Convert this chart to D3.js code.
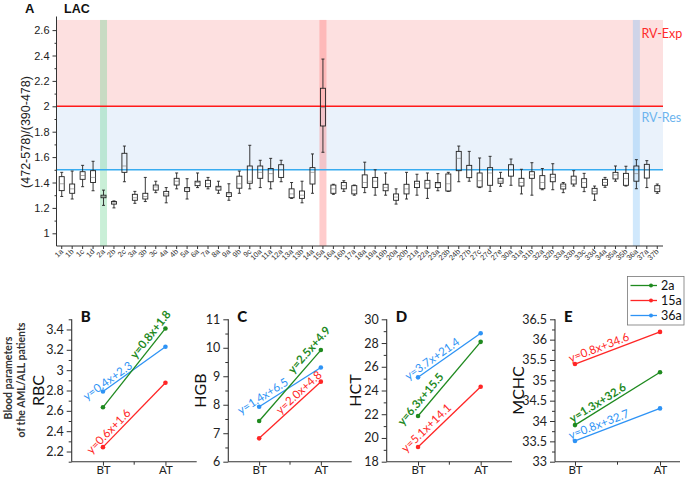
<!DOCTYPE html>
<html><head><meta charset="utf-8">
<script src="https://cdn.jsdelivr.net/npm/d3@7"></script>
<style>body{margin:0;background:#fff} svg{display:block}</style>
</head><body>
<svg id="c" width="685" height="477"></svg>
<script>
// ---------- Panel A data ----------
const categories = ["1a","1b","1c","1d","2a","2b","2c","3a","3b","3c","4a","4b","5a","6a","7a","8a","9a","9b","9c","10a","11a","12a","13a","13b","14a","15a","16a","16b","17a","18a","19a","19b","20a","20b","21a","22a","23a","23b","24b","27b","27c","27d","27e","30a","31a","31b","32a","32b","33a","33b","33c","33d","34a","35a","35b","36a","37a","37b"];
const whiskerLow = [1.29,1.27,1.367,1.335,1.22,1.20,1.406,1.236,1.25,1.32,1.24,1.35,1.27,1.36,1.35,1.315,1.26,1.315,1.35,1.36,1.35,1.406,1.275,1.24,1.315,1.638,1.307,1.33,1.30,1.32,1.30,1.30,1.23,1.27,1.30,1.275,1.335,1.33,1.406,1.41,1.36,1.33,1.37,1.378,1.31,1.30,1.343,1.343,1.32,1.372,1.328,1.26,1.362,1.41,1.372,1.351,1.36,1.315];
const quart1 = [1.336,1.315,1.425,1.40,1.28,1.23,1.48,1.26,1.27,1.34,1.294,1.38,1.33,1.375,1.367,1.34,1.29,1.355,1.394,1.433,1.406,1.44,1.28,1.275,1.388,1.845,1.315,1.35,1.31,1.36,1.36,1.335,1.26,1.31,1.36,1.355,1.36,1.333,1.493,1.438,1.365,1.378,1.394,1.45,1.372,1.433,1.351,1.406,1.349,1.388,1.362,1.31,1.378,1.428,1.378,1.41,1.435,1.328];
const medians = [1.39,1.35,1.455,1.44,1.29,1.24,1.53,1.28,1.29,1.365,1.31,1.41,1.35,1.40,1.39,1.36,1.31,1.39,1.41,1.48,1.47,1.50,1.31,1.30,1.48,1.99,1.35,1.375,1.34,1.40,1.41,1.36,1.285,1.35,1.39,1.39,1.39,1.39,1.59,1.50,1.414,1.475,1.41,1.50,1.40,1.46,1.40,1.44,1.37,1.42,1.40,1.33,1.40,1.46,1.43,1.47,1.50,1.35];
const quart3 = [1.446,1.388,1.485,1.493,1.30,1.25,1.63,1.307,1.315,1.38,1.33,1.433,1.36,1.41,1.417,1.37,1.32,1.45,1.53,1.53,1.51,1.54,1.35,1.333,1.517,2.142,1.38,1.40,1.375,1.46,1.44,1.386,1.31,1.386,1.41,1.417,1.40,1.467,1.645,1.535,1.475,1.517,1.433,1.54,1.433,1.485,1.454,1.465,1.388,1.45,1.43,1.354,1.425,1.48,1.472,1.53,1.543,1.375];
const whiskerHigh = [1.48,1.49,1.535,1.567,1.34,1.255,1.687,1.33,1.44,1.41,1.36,1.475,1.43,1.475,1.44,1.41,1.39,1.49,1.693,1.575,1.59,1.575,1.40,1.41,1.625,2.372,1.386,1.414,1.38,1.56,1.50,1.475,1.35,1.48,1.465,1.475,1.47,1.48,1.687,1.645,1.593,1.606,1.48,1.585,1.504,1.556,1.51,1.548,1.40,1.493,1.472,1.372,1.44,1.53,1.528,1.58,1.572,1.388];
const yTicksA = [1,1.2,1.4,1.6,1.8,2,2.2,2.4,2.6];
const yMinorA = [1.1,1.3,1.5,1.7,1.9,2.1,2.3,2.5];
const highlightCats = ["2a","15a","36a"];
const thresholdExp = 2.0, thresholdRes = 1.5;

// ---------- Panels B-E data ----------
const seriesNames = ["2a","15a","36a"];
const seriesColors = ["#1f8a1f","#ff2626","#2e93f5"];
const timePoints = ["BT","AT"];
const rbcValues  = [[2.635,3.41],[2.243,2.876],[2.79,3.23]];
const hgbValues  = [[7.43,9.92],[6.82,8.81],[7.93,9.31]];
const hctValues  = [[21.85,28.1],[19.24,24.32],[25.11,28.82]];
const mchcValues = [[33.90,35.20],[35.40,36.19],[33.51,34.31]];
const rbcEq  = ["y=0.8x+1.8","y=0.6x+1.6","y=0.4x+2.3"];
const hgbEq  = ["y=2.5x+4.9","y=2.0x+4.8","y=1.4x+6.5"];
const hctEq  = ["y=6.3x+15.5","y=5.1x+14.1","y=3.7x+21.4"];
const mchcEq = ["y=1.3x+32.6","y=0.8x+34.6","y=0.8x+32.7"];
const rbcTicks  = [2.2,2.4,2.6,2.8,3,3.2,3.4];
const hgbTicks  = [6,7,8,9,10,11];
const hctTicks  = [18,20,22,24,26,28,30];
const mchcTicks = [33,33.5,34,34.5,35,35.5,36,36.5];

const svg = d3.select("#c");
const fA = "'Liberation Sans', Arial, sans-serif";
const fB = "Lato, 'Open Sans', sans-serif";
const fmt = d => String(+d.toFixed(2));

// ================= Panel A =================
const xA = d3.scaleBand().domain(categories).range([56.5, 662.5]).padding(0);
const yA = d3.scaleLinear().domain([0.9, 2.7]).range([246, 17.4]);
const aL = 56.5, aR = 663, aTop = yA(2.68), aBot = yA(0.9);
const gA = svg.append("g");
gA.append("rect").attr("x", aL).attr("y", aTop).attr("width", aR - aL).attr("height", yA(thresholdExp) - aTop).attr("fill", "#fde0e0");
gA.append("rect").attr("x", aL).attr("y", yA(thresholdExp)).attr("width", aR - aL).attr("height", yA(thresholdRes) - yA(thresholdExp)).attr("fill", "#eaf2fb");
const bandFill = ["rgba(100,210,140,0.35)","rgba(255,120,120,0.38)","rgba(120,190,245,0.35)"];
highlightCats.forEach((c, i) => {
  const cx = xA(c) + xA.bandwidth() / 2;
  gA.append("rect").attr("x", cx - 3.5).attr("y", aTop).attr("width", 7).attr("height", aBot - aTop).attr("fill", bandFill[i]);
});
gA.append("line").attr("x1", aL).attr("x2", aR).attr("y1", yA(thresholdExp)).attr("y2", yA(thresholdExp)).attr("stroke", "#ff1a1a").attr("stroke-width", 1.5);
gA.append("line").attr("x1", aL).attr("x2", aR).attr("y1", yA(thresholdRes)).attr("y2", yA(thresholdRes)).attr("stroke", "#38acf0").attr("stroke-width", 1.5);

const boxes = gA.append("g").attr("stroke", "#222").attr("fill", "none").attr("stroke-width", 0.9);
categories.forEach((c, i) => {
  const cx = xA(c) + xA.bandwidth() / 2;
  const g = boxes.append("g");
  g.append("line").attr("x1", cx).attr("x2", cx).attr("y1", yA(whiskerHigh[i])).attr("y2", yA(quart3[i]));
  g.append("line").attr("x1", cx).attr("x2", cx).attr("y1", yA(quart1[i])).attr("y2", yA(whiskerLow[i]));
  g.append("line").attr("x1", cx - 1.5).attr("x2", cx + 1.5).attr("y1", yA(whiskerHigh[i])).attr("y2", yA(whiskerHigh[i]));
  g.append("line").attr("x1", cx - 1.5).attr("x2", cx + 1.5).attr("y1", yA(whiskerLow[i])).attr("y2", yA(whiskerLow[i]));
  g.append("rect").attr("x", cx - 2.5).attr("width", 5).attr("y", yA(quart3[i])).attr("height", yA(quart1[i]) - yA(quart3[i]));
  g.append("line").attr("x1", cx - 2.5).attr("x2", cx + 2.5).attr("y1", yA(medians[i])).attr("y2", yA(medians[i])).attr("stroke", "#777").attr("stroke-width", 0.6);
});

// axes A
const axAL = gA.append("g").attr("transform", `translate(${aL},0)`)
  .call(d3.axisLeft(yA).tickValues(yTicksA).tickFormat(fmt).tickSize(4).tickPadding(3).tickSizeOuter(0));
gA.append("g").attr("transform", `translate(${aL},0)`)
  .call(d3.axisLeft(yA).tickValues(yMinorA).tickFormat("").tickSize(2).tickSizeOuter(0));
gA.selectAll(".domain").remove();
gA.append("line").attr("x1", aL).attr("x2", aL).attr("y1", 16.5).attr("y2", aBot).attr("stroke", "#333");
gA.append("line").attr("x1", aL).attr("x2", aR).attr("y1", aBot).attr("y2", aBot).attr("stroke", "#333");
axAL.selectAll("text").attr("font-family", fA).attr("font-size", 11).attr("fill", "#222");
gA.selectAll(".tick line").attr("stroke", "#333");
const axAB = gA.append("g").attr("transform", `translate(0,${aBot})`)
  .call(d3.axisBottom(xA).tickSize(3).tickSizeOuter(0));
axAB.select(".domain").remove();
axAB.selectAll(".tick line").attr("stroke", "#333");
axAB.selectAll("text").attr("font-family", fA).attr("font-size", 7.5).attr("fill", "#333")
  .attr("text-anchor", "end").attr("dy", 0).attr("y", 0)
  .attr("transform", "translate(2,6) rotate(-45)");

gA.append("text").attr("transform", "translate(25.5,132) rotate(-90)").attr("text-anchor", "middle")
  .attr("dy", "0.35em").attr("font-family", fA).attr("font-size", 12.5).attr("fill", "#222").text("(472-578)/(390-478)");
svg.append("text").attr("x", 25).attr("y", 12.5).attr("font-family", fA).attr("font-weight", "bold").attr("font-size", 13).attr("fill", "#111").text("A");
svg.append("text").attr("x", 64).attr("y", 12.5).attr("font-family", fA).attr("font-weight", "bold").attr("font-size", 12.5).attr("fill", "#111").text("LAC");
svg.append("text").attr("x", 641.5).attr("y", 37.5).attr("font-family", fB).attr("font-size", 12.5).attr("fill", "#ff2a2a").text("RV-Exp");
svg.append("text").attr("x", 641.5).attr("y", 121.5).attr("font-family", fB).attr("font-size", 12.5).attr("fill", "#6cb4ee").text("RV-Res");

// ================= Panels B-E =================
const pTop = 319.3, pBot = 461.7;
const panels = [
  {letter:"B", label:"RBC",  vals:rbcValues,  eq:rbcEq,  ticks:rbcTicks,  dom:[2.1,3.5], minor:0.1,
   x0:71.7, x1:196.7, pad:0.5, labelX:38.5, place:[[0.86,4],[0.17,3],[0.13,2]]},
  {letter:"C", label:"HGB",  vals:hgbValues,  eq:hgbEq,  ticks:hgbTicks,  dom:[6,11], minor:0.5,
   x0:228.3, x1:351.7, pad:0.5, labelX:200, place:[[0.92,5],[0.72,3],[0.12,3]]},
  {letter:"D", label:"HCT",  vals:hctValues,  eq:hctEq,  ticks:hctTicks,  dom:[18,30], minor:1,
   x0:386.7, x1:512, pad:0.5, labelX:355, place:[[0.15,5],[0.22,4],[0.29,3]]},
  {letter:"E", label:"MCHC", vals:mchcValues, eq:mchcEq, ticks:mchcTicks, dom:[33,36.5], minor:0.25,
   x0:555, x1:680, pad:0.235, labelX:518, place:[[0.31,3],[0.31,3],[0.31,3]]}
];
panels.forEach(p => {
  const g = svg.append("g");
  const x = d3.scalePoint().domain(timePoints).range([p.x0, p.x1]).padding(p.pad);
  const y = d3.scaleLinear().domain(p.dom).range([pBot, pTop]);
  const minorVals = d3.range(p.dom[0], p.dom[1] + 1e-9, p.minor).map(v => +v.toFixed(3)).filter(v => !p.ticks.some(t => Math.abs(t - v) < 1e-6));
  g.append("g").attr("transform", `translate(${p.x0},0)`)
    .call(d3.axisLeft(y).tickValues(p.ticks).tickFormat(fmt).tickSize(5).tickPadding(3).tickSizeOuter(0));
  g.append("g").attr("transform", `translate(${p.x0},0)`)
    .call(d3.axisLeft(y).tickValues(minorVals).tickFormat("").tickSize(3).tickSizeOuter(0));
  const ax = g.append("g").attr("transform", `translate(0,${pBot})`)
    .call(d3.axisBottom(x).tickSize(4).tickPadding(0).tickSizeOuter(0));
  const midX = (x("BT") + x("AT")) / 2;
  g.append("line").attr("x1", midX).attr("x2", midX).attr("y1", pBot).attr("y2", pBot + 3).attr("stroke", "#333");
  g.selectAll(".domain").remove();
  g.append("line").attr("x1", p.x0).attr("x2", p.x0).attr("y1", pTop).attr("y2", pBot).attr("stroke", "#333").attr("stroke-width", 1.1);
  g.append("line").attr("x1", p.x0).attr("x2", p.x1).attr("y1", pBot).attr("y2", pBot).attr("stroke", "#333").attr("stroke-width", 1.1);
  g.selectAll(".tick line").attr("stroke", "#333");
  g.selectAll(".tick text").attr("font-family", fB).attr("font-size", 12.5).attr("fill", "#222");
  ax.selectAll("text").attr("font-size", 11.5);

  g.append("text").attr("transform", `translate(${p.labelX},${(pTop + pBot) / 2}) rotate(-90)`)
    .attr("text-anchor", "middle").attr("dy", "0.35em").attr("font-family", fB).attr("font-size", 16).attr("fill", "#111").text(p.label);
  g.append("text").attr("x", p.x0 + 9).attr("y", pTop + 3).attr("font-family", fB).attr("font-weight", "900").attr("font-size", 15).attr("fill", "#111").text(p.letter);

  [2, 1, 0].forEach(si => {
    const v = p.vals[si];
    const pts = timePoints.map((t, k) => [x(t), y(v[k])]);
    g.append("path").attr("d", d3.line()(pts)).attr("stroke", seriesColors[si]).attr("stroke-width", 1.3).attr("fill", "none");
    pts.forEach(pt => g.append("circle").attr("cx", pt[0]).attr("cy", pt[1]).attr("r", 2.3).attr("fill", seriesColors[si]));
  });
  [2, 1, 0].forEach(si => {
    const v = p.vals[si];
    const x0 = x("BT"), y0 = y(v[0]), x1 = x("AT"), y1 = y(v[1]);
    const ang = Math.atan2(y1 - y0, x1 - x0) * 180 / Math.PI;
    const [t, off] = p.place[si];
    const px = x0 + t * (x1 - x0), py = y0 + t * (y1 - y0);
    g.append("text").attr("transform", `translate(${px},${py}) rotate(${ang})`)
      .attr("y", -off).attr("text-anchor", "middle").attr("font-family", fB).attr("font-size", 11.5)
      .attr("font-weight", si === 0 ? "bold" : "normal").attr("fill", seriesColors[si]).text(p.eq[si]);
  });
});

svg.append("text").attr("transform", "translate(8,378) rotate(-90)").attr("text-anchor", "middle").attr("dy", "0.35em")
  .attr("font-family", fB).attr("font-weight", "bold").attr("font-size", 10.5).attr("fill", "#333").text("Blood parameters");
svg.append("text").attr("transform", "translate(21.5,380) rotate(-90)").attr("text-anchor", "middle").attr("dy", "0.35em")
  .attr("font-family", fB).attr("font-weight", "bold").attr("font-size", 10.5).attr("fill", "#333").text("of the AML/ALL patients");

const lg = svg.append("g");
lg.append("rect").attr("x", 627.5).attr("y", 276.5).attr("width", 56.5).attr("height", 48.5).attr("fill", "#fff").attr("stroke", "#777").attr("stroke-width", 0.8);
seriesNames.forEach((s, i) => {
  const yy = 285.5 + i * 15;
  lg.append("line").attr("x1", 630.5).attr("x2", 657).attr("y1", yy).attr("y2", yy).attr("stroke", seriesColors[i]).attr("stroke-width", 1.3);
  lg.append("circle").attr("cx", 651).attr("cy", yy).attr("r", 2).attr("fill", seriesColors[i]);
  lg.append("text").attr("x", 661).attr("y", yy).attr("dy", "0.35em").attr("font-family", fB).attr("font-size", 12.5).attr("fill", "#111").text(s);
});
</script>
</body></html>
